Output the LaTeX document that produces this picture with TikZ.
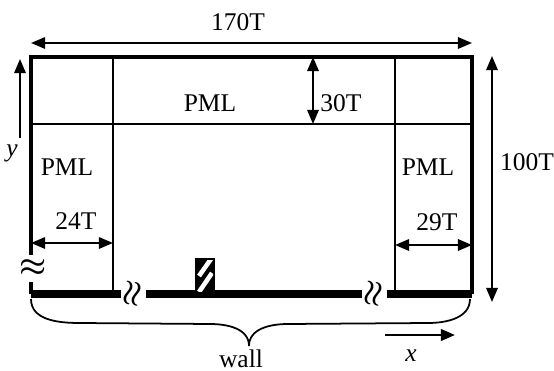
\documentclass[tikz,border=0pt]{standalone}
\usepackage{fontspec}
\setmainfont{Liberation Serif}
\usetikzlibrary{arrows.meta}

\begin{document}
\begin{tikzpicture}[x=0.02cm, y=-0.02cm,
        >={Triangle[length=8pt, width=6.5pt]},
        lbl/.style={font=\fontsize{14.5}{16}\selectfont, inner sep=0pt},
        brk/.style={font=\fontsize{19}{21}\selectfont\boldmath, inner sep=0pt},
        dim/.style={<->, line width=1.1pt},
        border/.style={line width=1.9pt},
        pmlline/.style={line width=1.1pt},
        wallseg/.style={line width=4pt}]
        \useasboundingbox (0,0) rectangle (554,371);

        \coordinate (tl) at (31,57);
        \coordinate (tr) at (472,57);
        \coordinate (br) at (472,294);
        \coordinate (bl) at (31,294);
        \coordinate (lb) at (31,255);
        \coordinate (lc) at (31,282);

        \draw[border] (lb) -- (tl) -- (tr) -- (br);
        \draw[border] (lc) -- (bl);
        \draw[pmlline] (113,57) -- (113,294);
        \draw[pmlline] (395,57) -- (395,294);
        \draw[pmlline] (31,124) -- (472,124);

        \draw[wallseg] (bl) -- (121,294);
        \draw[wallseg] (146,294) -- (362,294);
        \draw[wallseg] (387,294) -- (br);

        \fill (195,258) rectangle (215,294);
        \begin{scope}
            \clip (197,260) rectangle (213,291);
            \draw[white, line width=2.6pt] (199,276) -- (211,259);
            \draw[white, line width=2.6pt] (199,292) -- (212,273);
        \end{scope}

        \node[brk] (brk0) at (33,268) {$\approx$};
        \node[brk, rotate=80] (brk1) at (133,294) {$\approx$};
        \node[brk, rotate=80] (brk2) at (374,294) {$\approx$};

        \node[lbl] (pmltop) at (210,103) {PML};
        \node[lbl] (pmlleft) at (67,167) {PML};
        \node[lbl] (pmlright) at (428,167) {PML};

        \coordinate (wL) at (31,43);
        \coordinate (wR) at (472,43);
        \draw[dim] (wL) -- (wR);
        \node[lbl] (w170) at (238,22) {170T};

        \coordinate (hT) at (313,57);
        \coordinate (hB) at (313,124);
        \draw[dim] (hT) -- (hB);
        \node[lbl] (h30) at (341,103) {30T};

        \coordinate (vT) at (492,56);
        \coordinate (vB) at (492,302);
        \draw[dim] (vT) -- (vB);
        \node[lbl] (h100) at (527,162) {100T};

        \coordinate (aL) at (31,243);
        \coordinate (aR) at (113,243);
        \draw[dim] (aL) -- (aR);
        \node[lbl] (w24) at (76,221) {24T};

        \coordinate (bL) at (395,245);
        \coordinate (bR) at (472,245);
        \draw[dim] (bL) -- (bR);
        \node[lbl] (w29) at (437,222) {29T};

        \coordinate (yS) at (20,138);
        \coordinate (yE) at (20,59);
        \draw[->, line width=1.1pt] (yS) -- (yE);
        \node[lbl] (ylab) at (12,153) {\textit{y}};

        \coordinate (xS) at (385,335);
        \coordinate (xE) at (455,335);
        \draw[->, line width=1.4pt] (xS) -- (xE);
        \node[lbl] (xlab) at (411,356) {\textit{x}};

        \draw[line width=1pt] (31,299) to[out=-90, in=180] (80,323) -- (210,324)
            to[out=0, in=90] (249,346) to[out=90, in=180] (288,324) -- (428,323)
            to[out=0, in=-90] (470,299);
        \node[lbl] (walllab) at (241,359) {wall};
    \end{tikzpicture}
\end{document}
